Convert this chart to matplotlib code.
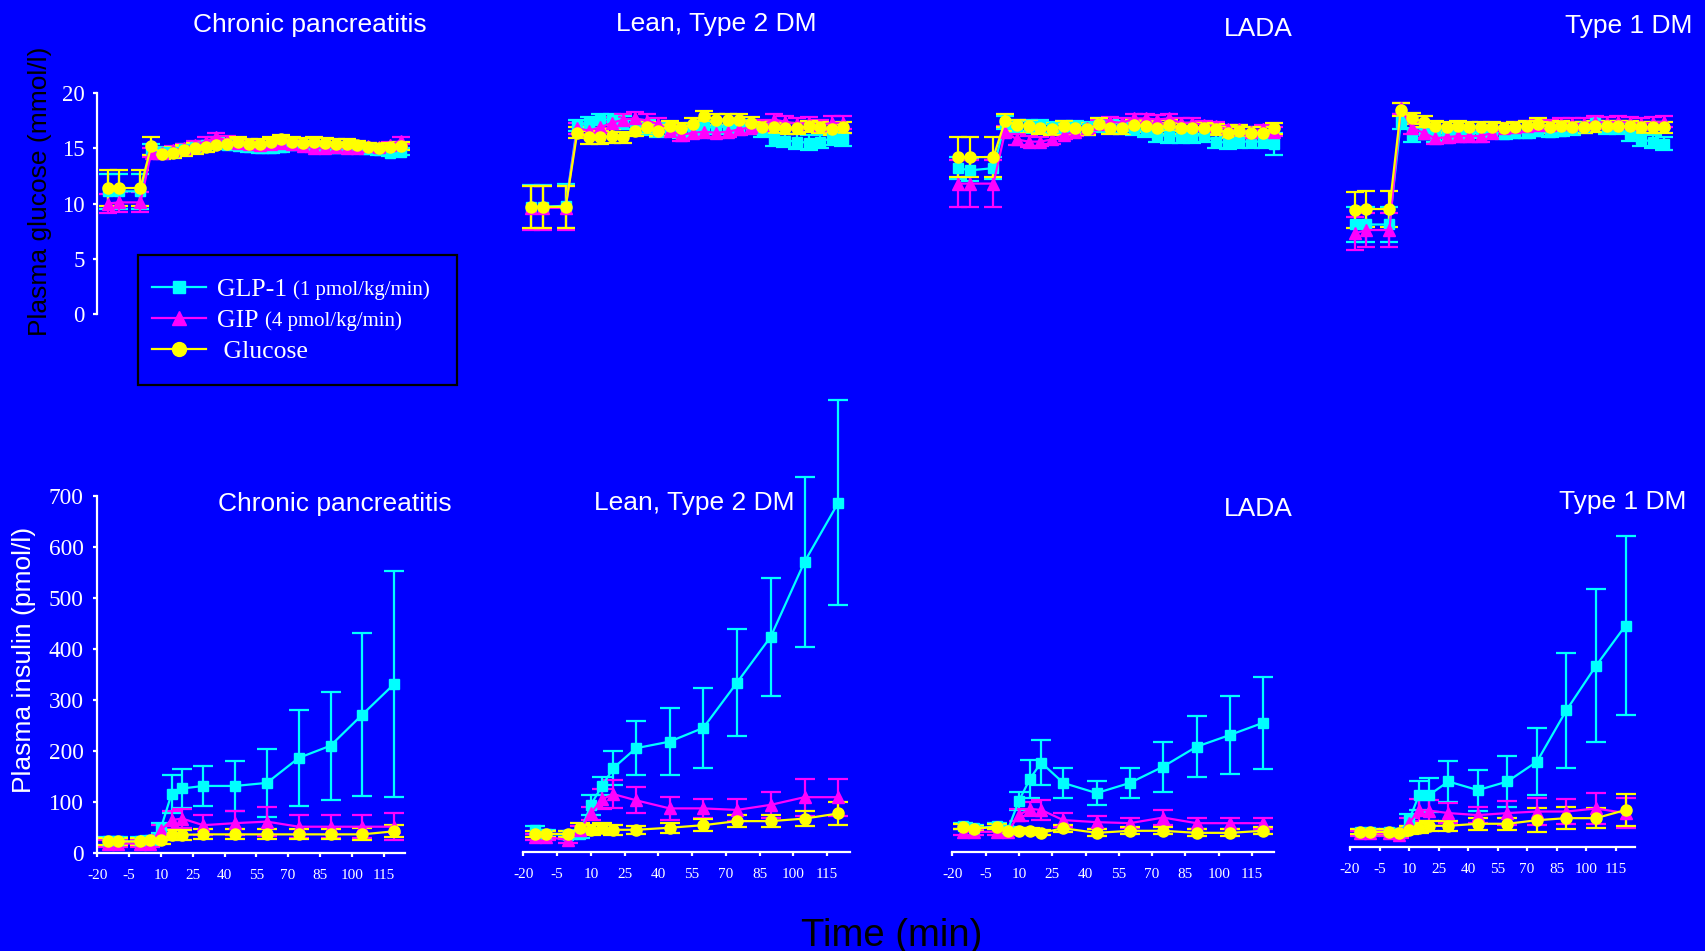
import numpy as np
import matplotlib.pyplot as plt
from matplotlib.patches import Rectangle
from matplotlib.transforms import IdentityTransform

W, H = 1705, 951
BLUE = '#0000ff'
C_GLP = '#00ffff'
C_GIP = '#ff00ff'
C_GLU = '#ffff00'
SANS = 'Liberation Sans'
SERIF = 'Liberation Serif'

# sampling times (min)
glu_t = [-15, -10, 0, 5, 10, 15, 20, 25, 30, 35, 40, 45, 50, 55, 60, 65, 70,
         75, 80, 85, 90, 95, 100, 105, 110, 115, 120]
ins_t = [-15, -10, 0, 5, 10, 15, 20, 30, 45, 60, 75, 90, 105, 120]
xtick_vals = [-20, -5, 10, 25, 40, 55, 70, 85, 100, 115]
xtick_labels = ['-20', '-5', '10', '25', '40', '55', '70', '85', '100', '115']

groups = ['Chronic pancreatitis', 'Lean, Type 2 DM', 'LADA', 'Type 1 DM']

# ---- plasma glucose (mmol/l), mean and SEM ----
cp_g_glp = [11.1, 11.1, 11.1, 14.9, 14.7, 14.7, 14.9, 15.1, 15.3, 15.5, 15.3, 15.2, 15.1, 15.0,
            15.0, 15.1, 15.3, 15.3, 15.2, 15.0, 15.0, 15.1, 15.0, 14.9, 14.8, 14.6, 14.7]
cp_g_glp_e = [1.6, 1.6, 1.6, 0.5, 0.4, 0.4, 0.5, 0.4, 0.4, 0.5, 0.4, 0.4, 0.4, 0.4,
              0.4, 0.4, 0.5, 0.4, 0.4, 0.4, 0.4, 0.4, 0.4, 0.4, 0.4, 0.3, 0.3]
cp_g_gip = [10.0, 10.1, 10.1, 14.6, 14.6, 14.8, 15.0, 15.3, 15.6, 16.0, 15.7, 15.5, 15.4, 15.3,
            15.4, 15.5, 15.4, 15.2, 15.0, 15.0, 15.1, 15.0, 15.0, 15.2, 15.1, 15.3, 15.7]
cp_g_gip_e = [0.9, 0.9, 0.9, 0.4, 0.4, 0.4, 0.4, 0.4, 0.4, 0.4, 0.4, 0.4, 0.3, 0.3,
              0.4, 0.4, 0.4, 0.3, 0.3, 0.3, 0.3, 0.3, 0.3, 0.3, 0.3, 0.3, 0.3]
cp_g_glu = [11.4, 11.4, 11.4, 15.2, 14.5, 14.6, 14.8, 15.0, 15.1, 15.3, 15.4, 15.6, 15.4, 15.4,
            15.6, 15.8, 15.6, 15.5, 15.6, 15.5, 15.4, 15.4, 15.3, 15.1, 15.0, 15.1, 15.2]
cp_g_glu_e = [1.6, 1.6, 1.6, 0.8, 0.5, 0.5, 0.5, 0.5, 0.4, 0.4, 0.4, 0.4, 0.4, 0.4,
              0.4, 0.4, 0.4, 0.4, 0.4, 0.4, 0.4, 0.4, 0.4, 0.4, 0.4, 0.4, 0.4]

ln_g_glp = [9.7, 9.7, 9.8, 17.1, 17.3, 17.6, 17.6, 17.3, 17.0, 16.9, 16.6, 16.7, 16.5, 16.7,
            16.9, 16.9, 17.0, 17.0, 16.9, 16.6, 15.8, 15.7, 15.6, 15.5, 15.6, 15.9, 15.8]
ln_g_glp_e = [2.0, 2.0, 2.0, 0.5, 0.5, 0.5, 0.5, 0.6, 0.6, 0.7, 0.6, 0.6, 0.6, 0.6,
              0.6, 0.6, 0.6, 0.6, 0.6, 0.6, 0.6, 0.6, 0.7, 0.7, 0.6, 0.6, 0.6]
ln_g_gip = [9.6, 9.6, 9.6, 16.8, 16.6, 16.9, 17.3, 17.6, 17.7, 17.5, 17.2, 16.6, 16.2, 16.4,
            16.5, 16.4, 16.5, 16.7, 16.9, 17.1, 17.6, 17.4, 17.2, 17.3, 17.1, 17.3, 17.3]
ln_g_gip_e = [2.0, 2.0, 2.0, 0.5, 0.5, 0.5, 0.5, 0.5, 0.6, 0.6, 0.5, 0.5, 0.5, 0.5,
              0.5, 0.5, 0.5, 0.5, 0.6, 0.5, 0.5, 0.5, 0.5, 0.5, 0.5, 0.6, 0.6]
ln_g_glu = [9.7, 9.7, 9.7, 16.4, 16.0, 16.0, 16.1, 16.0, 16.6, 16.9, 16.6, 17.0, 16.8, 17.2,
            17.9, 17.6, 17.6, 17.6, 17.3, 16.9, 16.9, 16.8, 16.8, 17.0, 16.9, 16.7, 16.9]
ln_g_glu_e = [1.9, 1.9, 1.9, 0.5, 0.6, 0.6, 0.6, 0.5, 0.5, 0.5, 0.5, 0.5, 0.5, 0.5,
              0.5, 0.5, 0.5, 0.5, 0.5, 0.5, 0.5, 0.5, 0.5, 0.5, 0.5, 0.5, 0.5]

la_g_glp = [13.2, 13.0, 13.2, 17.3, 17.0, 17.0, 17.0, 16.8, 16.9, 16.9, 16.8, 17.1, 17.0, 16.9,
            16.8, 16.6, 16.2, 16.1, 16.1, 16.1, 16.2, 15.6, 15.5, 15.6, 15.6, 15.6, 15.4]
la_g_glp_e = [1.0, 1.0, 1.0, 0.6, 0.6, 0.6, 0.6, 0.6, 0.6, 0.6, 0.6, 0.6, 0.6, 0.6,
              0.6, 0.6, 0.6, 0.6, 0.6, 0.6, 0.6, 0.6, 0.6, 0.6, 0.6, 0.6, 1.0]
la_g_gip = [11.8, 11.8, 11.8, 16.5, 15.8, 15.6, 15.6, 15.8, 16.2, 16.5, 16.8, 17.2, 17.4, 17.3,
            17.7, 17.7, 17.6, 17.7, 17.3, 17.3, 17.1, 17.0, 16.7, 16.7, 16.5, 16.7, 16.5]
la_g_gip_e = [2.1, 2.1, 2.1, 0.5, 0.5, 0.5, 0.4, 0.4, 0.4, 0.4, 0.4, 0.4, 0.4, 0.4,
              0.4, 0.4, 0.4, 0.4, 0.4, 0.4, 0.4, 0.4, 0.4, 0.4, 0.4, 0.4, 0.4]
la_g_glu = [14.2, 14.2, 14.2, 17.5, 17.1, 17.0, 16.8, 16.7, 17.0, 16.8, 16.7, 17.2, 16.8, 16.8,
            17.1, 17.0, 16.8, 17.1, 16.8, 16.8, 16.8, 16.7, 16.4, 16.6, 16.4, 16.4, 16.8]
la_g_glu_e = [1.8, 1.8, 1.8, 0.6, 0.5, 0.5, 0.5, 0.5, 0.5, 0.5, 0.5, 0.5, 0.5, 0.5,
              0.5, 0.5, 0.5, 0.5, 0.5, 0.5, 0.5, 0.5, 0.5, 0.5, 0.5, 0.5, 0.5]

t1_g_glp = [8.1, 8.1, 8.1, 17.4, 16.2, 16.3, 16.1, 16.2, 16.3, 16.4, 16.5, 16.4, 16.3, 16.4,
            16.4, 16.6, 16.5, 16.6, 16.7, 16.9, 17.3, 16.8, 16.8, 16.3, 15.8, 15.6, 15.4]
t1_g_glp_e = [1.6, 1.6, 1.6, 0.7, 0.6, 0.5, 0.5, 0.5, 0.5, 0.5, 0.5, 0.5, 0.5, 0.5,
              0.5, 0.5, 0.5, 0.5, 0.5, 0.5, 0.5, 0.5, 0.5, 0.6, 0.6, 0.6, 0.6]
t1_g_gip = [7.3, 7.6, 7.6, 18.6, 16.8, 16.4, 15.9, 16.0, 16.1, 16.1, 16.1, 16.4, 16.8, 16.9,
            17.0, 17.1, 17.1, 17.2, 17.2, 17.2, 17.4, 17.3, 17.4, 17.3, 17.2, 17.3, 17.4]
t1_g_gip_e = [1.5, 1.5, 1.5, 0.5, 0.5, 0.5, 0.5, 0.5, 0.5, 0.5, 0.5, 0.5, 0.5, 0.5,
              0.5, 0.5, 0.5, 0.5, 0.5, 0.5, 0.5, 0.5, 0.5, 0.5, 0.5, 0.5, 0.5]
t1_g_glu = [9.4, 9.5, 9.5, 18.5, 17.7, 17.4, 17.0, 16.9, 17.0, 16.9, 16.9, 16.9, 16.8, 16.9,
            17.0, 17.2, 16.9, 17.0, 16.9, 16.9, 17.0, 17.0, 17.0, 17.0, 16.9, 16.9, 16.9]
t1_g_glu_e = [1.6, 1.6, 1.6, 0.6, 0.5, 0.5, 0.5, 0.5, 0.5, 0.5, 0.5, 0.5, 0.5, 0.5,
              0.5, 0.5, 0.5, 0.5, 0.5, 0.5, 0.5, 0.5, 0.5, 0.5, 0.5, 0.5, 0.5]

# ---- plasma insulin (pmol/l), mean and SEM ----
cp_i_glp = [22, 22, 22, 24, 48, 115, 126, 131, 131, 137, 186, 210, 271, 331]
cp_i_glp_e = [8, 8, 8, 8, 10, 37, 38, 39, 49, 66, 94, 106, 160, 221]
cp_i_gip = [18, 18, 18, 18, 44, 64, 67, 54, 58, 61, 51, 51, 51, 51]
cp_i_gip_e = [6, 6, 6, 6, 10, 18, 19, 20, 24, 29, 23, 23, 23, 27]
cp_i_glu = [22, 22, 22, 25, 25, 35, 35, 36, 36, 36, 36, 36, 36, 42]
cp_i_glu_e = [6, 6, 6, 6, 8, 10, 10, 10, 10, 10, 10, 10, 12, 12]

ln_i_glp = [43, 35, 33, 35, 92, 129, 164, 203, 216, 243, 332, 422, 569, 685]
ln_i_glp_e = [8, 8, 8, 8, 20, 18, 34, 53, 66, 78, 105, 116, 167, 201]
ln_i_gip = [29, 29, 23, 42, 75, 103, 113, 101, 85, 85, 82, 92, 107, 107]
ln_i_gip_e = [6, 6, 6, 8, 12, 20, 28, 26, 23, 18, 21, 25, 36, 36]
ln_i_glu = [35, 35, 35, 46, 43, 47, 43, 43, 47, 52, 60, 60, 65, 75]
ln_i_glu_e = [6, 6, 6, 10, 10, 10, 10, 8, 10, 12, 12, 12, 15, 22]

la_i_glp = [50, 46, 50, 43, 100, 143, 175, 135, 115, 135, 167, 206, 229, 253]
la_i_glp_e = [6, 6, 6, 6, 18, 37, 44, 29, 23, 30, 49, 60, 77, 90]
la_i_gip = [39, 39, 39, 39, 72, 84, 82, 62, 58, 56, 67, 56, 56, 56]
la_i_gip_e = [6, 6, 6, 6, 12, 13, 19, 13, 13, 10, 15, 11, 11, 11]
la_i_glu = [49, 45, 49, 41, 41, 41, 37, 46, 37, 41, 41, 37, 37, 41]
la_i_glu_e = [5, 5, 5, 5, 5, 5, 5, 7, 7, 7, 7, 7, 7, 7]

t1_i_glp = [29, 29, 29, 27, 52, 101, 101, 128, 111, 128, 167, 268, 355, 434]
t1_i_glp_e = [6, 6, 6, 6, 12, 28, 33, 40, 40, 50, 66, 113, 150, 176]
t1_i_gip = [26, 26, 26, 23, 46, 72, 71, 66, 62, 66, 69, 69, 75, 66]
t1_i_gip_e = [5, 5, 5, 5, 10, 21, 20, 19, 15, 24, 26, 24, 31, 30]
t1_i_glu = [29, 29, 29, 26, 33, 37, 41, 41, 45, 45, 52, 56, 56, 72]
t1_i_glu_e = [5, 5, 5, 5, 8, 10, 10, 10, 12, 12, 23, 22, 20, 32]

glucose_sets = [
    (cp_g_glp, cp_g_glp_e, cp_g_gip, cp_g_gip_e, cp_g_glu, cp_g_glu_e),
    (ln_g_glp, ln_g_glp_e, ln_g_gip, ln_g_gip_e, ln_g_glu, ln_g_glu_e),
    (la_g_glp, la_g_glp_e, la_g_gip, la_g_gip_e, la_g_glu, la_g_glu_e),
    (t1_g_glp, t1_g_glp_e, t1_g_gip, t1_g_gip_e, t1_g_glu, t1_g_glu_e),
]
insulin_sets = [
    (cp_i_glp, cp_i_glp_e, cp_i_gip, cp_i_gip_e, cp_i_glu, cp_i_glu_e),
    (ln_i_glp, ln_i_glp_e, ln_i_gip, ln_i_gip_e, ln_i_glu, ln_i_glu_e),
    (la_i_glp, la_i_glp_e, la_i_gip, la_i_gip_e, la_i_glu, la_i_glu_e),
    (t1_i_glp, t1_i_glp_e, t1_i_gip, t1_i_gip_e, t1_i_glu, t1_i_glu_e),
]

# panel boxes in pixels: (x of -20 min, px per min, y of zero, px height)
top_boxes = [(97, 2.17, 314, 221), (519.4, 2.313, 314, 221),
             (946.6, 2.341, 314, 221), (1343.6, 2.289, 314, 221)]
bot_boxes = [(97.3, 2.12, 852.7, 356.7), (523.3, 2.25, 851.7, 356.7),
             (952.3, 2.22, 851.7, 356.7), (1350, 1.968, 846.7, 356.7)]


def make_axes(box):
    x0, ppm, y0, h = box
    return fig.add_axes([x0 / W, 1 - y0 / H, 145 * ppm / W, h / H])


def draw_series(ax, t, y, e, color, marker, ms, cap):
    eb = ax.errorbar(t, y, yerr=e, color=color, marker=marker, ms=ms, mec=color,
                     mfc=color, lw=1.6, elinewidth=1.6, capsize=cap, capthick=1.6)
    for a in eb.get_children():
        a.set_clip_on(False)
    return eb


fig = plt.figure(figsize=(W / 100, H / 100), dpi=100, facecolor=BLUE)

top_axes = []
for i, box in enumerate(top_boxes):
    ax = make_axes(box)
    ax.set_facecolor('none')
    ax.set_xlim(-20, 125)
    ax.set_ylim(0, 20)
    glp, glp_e, gip, gip_e, glu, glu_e = glucose_sets[i]
    draw_series(ax, glu_t, glp, glp_e, C_GLP, 's', 7.5, 6.5)
    draw_series(ax, glu_t, gip, gip_e, C_GIP, '^', 8.5, 6.5)
    draw_series(ax, glu_t, glu, glu_e, C_GLU, 'o', 8.0, 6.5)
    for s in ['top', 'right', 'bottom']:
        ax.spines[s].set_visible(False)
    ax.set_xticks([])
    if i == 0:
        ax.spines['left'].set_color('white')
        ax.spines['left'].set_linewidth(1.6)
        ax.set_yticks([0, 5, 10, 15, 20], ['0', '5', '10', '15', '20'])
        ax.tick_params(axis='y', colors='white', direction='out', length=3,
                       width=1.6, pad=6, labelsize=16.5)
        for lbl in ax.get_yticklabels():
            lbl.set_fontfamily(SERIF)
    else:
        ax.spines['left'].set_visible(False)
        ax.set_yticks([])
    top_axes.append(ax)

for i, box in enumerate(bot_boxes):
    ax = make_axes(box)
    ax.set_facecolor('none')
    ax.set_xlim(-20, 125)
    ax.set_ylim(0, 700)
    glp, glp_e, gip, gip_e, glu, glu_e = insulin_sets[i]
    draw_series(ax, ins_t, glp, glp_e, C_GLP, 's', 7.5, 7.5)
    draw_series(ax, ins_t, gip, gip_e, C_GIP, '^', 8.5, 7.5)
    draw_series(ax, ins_t, glu, glu_e, C_GLU, 'o', 8.0, 7.5)
    for s in ['top', 'right']:
        ax.spines[s].set_visible(False)
    ax.spines['bottom'].set_color('white')
    ax.spines['bottom'].set_linewidth(1.6)
    ax.set_xticks(xtick_vals, xtick_labels)
    ax.tick_params(axis='x', colors='white', direction='out', length=3,
                   width=1.6, pad=9, labelsize=11)
    for lbl in ax.get_xticklabels():
        lbl.set_fontfamily(SERIF)
    if i == 0:
        ax.spines['left'].set_color('white')
        ax.spines['left'].set_linewidth(1.6)
        ax.set_yticks(range(0, 701, 100), [str(v) for v in range(0, 701, 100)])
        ax.tick_params(axis='y', colors='white', direction='out', length=3,
                       width=1.6, pad=7, labelsize=16.8)
        for lbl in ax.get_yticklabels():
            lbl.set_fontfamily(SERIF)
    else:
        ax.spines['left'].set_visible(False)
        ax.set_yticks([])

# group titles, placed at their baselines
top_title_pos = [(310, 31.7), (716, 30.7), (1258, 36), (1629, 33.3)]
bot_title_pos = [(335, 511), (694, 510), (1258, 516), (1623, 509.3)]
for name, (x, y) in zip(groups, top_title_pos):
    fig.text(x / W, 1 - y / H, name, color='white', fontsize=19, family=SANS,
             ha='center', va='baseline')
for name, (x, y) in zip(groups, bot_title_pos):
    fig.text(x / W, 1 - y / H, name, color='white', fontsize=19, family=SANS,
             ha='center', va='baseline')

fig.text(40 / W, 1 - 191 / H, 'Plasma glucose (mmol/l)', color='black', fontsize=19,
         family=SANS, rotation=90, ha='center', va='center')
fig.text(24 / W, 1 - 660 / H, 'Plasma insulin (pmol/l)', color='white', fontsize=19,
         family=SANS, rotation=90, ha='center', va='center')
fig.text(891.5 / W, 1 - 946 / H, 'Time (min)', color='black', fontsize=27.5,
         family=SANS, ha='center', va='baseline')

# legend: black box drawn separately, entries placed inside it
fig.add_artist(Rectangle((138.3 / W, 1 - 385 / H), (456.7 - 138.3) / W, 130 / H,
                         transform=fig.transFigure, facecolor='none',
                         edgecolor='black', linewidth=1.6))
handles = [
    plt.Line2D([], [], color=C_GLP, marker='s', ms=9, lw=1.6),
    plt.Line2D([], [], color=C_GIP, marker='^', ms=10, lw=1.6),
    plt.Line2D([], [], color=C_GLU, marker='o', ms=10, lw=1.6),
]
leg = top_axes[0].legend(handles, ['GLP-1', 'GIP', ' Glucose'],
                         bbox_to_anchor=(151.7 / W, 1 - 278.5 / H),
                         bbox_transform=fig.transFigure, loc='upper left',
                         borderaxespad=0, borderpad=0, labelspacing=0.3,
                         handlelength=2.1, handletextpad=0.45, frameon=False,
                         prop={'family': SERIF, 'size': 18.5})
for txt in leg.get_texts():
    txt.set_color('white')

# infusion rates in smaller type after the peptide names
fig.canvas.draw()
for txt, rate in zip(leg.get_texts()[:2], ['(1 pmol/kg/min)', '(4 pmol/kg/min)']):
    bb = txt.get_window_extent()
    fig.text(bb.x1 + 6, bb.y0 + 1, rate, color='white', fontsize=15, family=SERIF,
             ha='left', va='bottom', transform=IdentityTransform())

fig.savefig('out.png', dpi=100, facecolor=BLUE)
